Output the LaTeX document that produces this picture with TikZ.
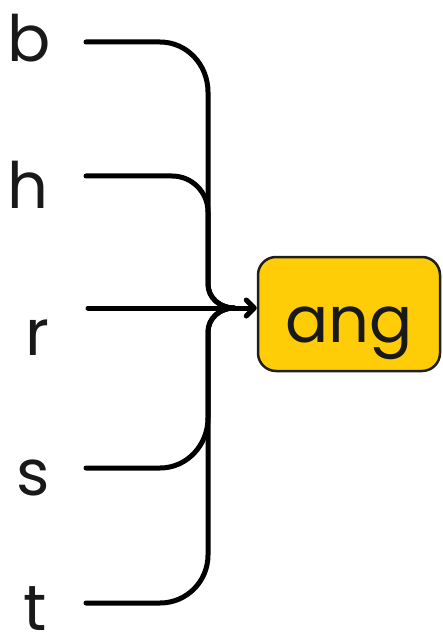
\documentclass[tikz,border=0pt]{standalone}
\usepackage{fontspec}
\setmainfont{Poppins}
\usetikzlibrary{arrows.meta}
\definecolor{boxyellow}{HTML}{FFCD07}
\definecolor{boxedge}{HTML}{1E1E1E}
\tikzset{
  lettr/.style={anchor=base, font=\fontsize{64}{70}\selectfont, inner sep=0pt, text=black!90},
  wire/.style={line width=5pt, line cap=round, line join=round},
  angbox/.style={draw=boxedge, fill=boxyellow, line width=2.5pt, rounded corners=18pt, minimum width=182pt, minimum height=114pt},
}
\begin{document}
\begin{tikzpicture}[x=1pt,y=-1pt]
\useasboundingbox (0,0) rectangle (442,644);
% letters
\node[lettr] (b) at (29,62) {b};
\node[lettr] (h) at (28,208) {h};
\node[lettr] (r) at (37,355) {r};
\node[lettr] (s) at (33,495) {s};
\node[lettr] (t) at (35,630) {t};
% box
\node[angbox] (ang) at (349,314) {};
\node[lettr, anchor=base] (angtext) at (349,342) {ang};
% wire start points
\coordinate (bs) at (86,42);
\coordinate (hs) at (86,176);
\coordinate (rs) at (88,308);
\coordinate (ss) at (86,468);
\coordinate (ts) at (86,603);
\coordinate (j) at (234,308);
% wires
\draw[wire] (bs) -- (160,42) to[out=0,in=90] (208,92) -- (208,284) to[out=-90,in=180] (j);
\draw[wire] (hs) -- (172,176) to[out=0,in=90] (208,212) -- (208,284) to[out=-90,in=180] (j);
\draw[wire] (ss) -- (160,468) to[out=0,in=-90] (208,418) -- (208,332) to[out=90,in=180] (j);
\draw[wire] (ts) -- (160,603) to[out=0,in=-90] (208,555) -- (208,332) to[out=90,in=180] (j);
\draw[wire, -{Straight Barb[length=8pt,width=16pt,round]}] (rs) -- (rs -| ang.west);
\end{tikzpicture}
\end{document}
